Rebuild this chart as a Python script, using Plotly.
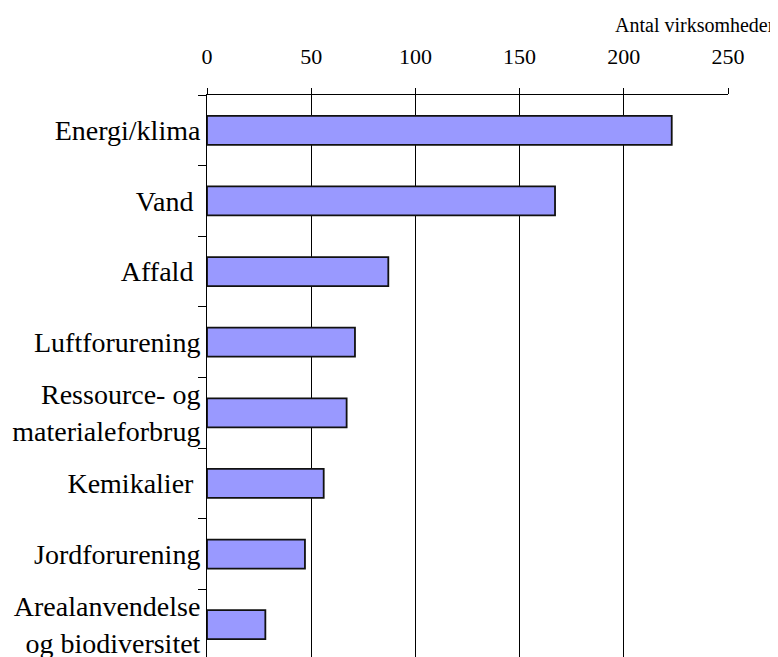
import plotly.graph_objects as go

# Data
categories = ['Energi/klima', 'Vand ', 'Affald ', 'Luftforurening',
              'Ressource- og<br>materialeforbrug', 'Kemikalier ',
              'Jordforurening', 'Arealanvendelse<br>og biodiversitet']
antal = [223, 167, 87, 71, 67, 56, 47, 28]
x_ticks = [0, 50, 100, 150, 200, 250]

serif = 'Liberation Serif'

trace = go.Bar(y=categories, x=antal, orientation='h', width=0.41,
               marker=dict(color='#9999FF', line=dict(color='#111111', width=1.8)),
               showlegend=False)

# the page body adds 8px, so margins are shifted by that
layout = dict(
    width=778, height=657,
    margin=dict(l=199, r=58, t=87, b=5),
    paper_bgcolor='white', plot_bgcolor='white',
    xaxis=dict(side='top', range=[0, 250], tickvals=x_ticks,
               showgrid=True, gridcolor='black', gridwidth=1,
               showline=True, linecolor='black', linewidth=1,
               ticks='outside', ticklen=6, tickcolor='black',
               ticklabelstandoff=15, zeroline=False,
               tickfont=dict(family=serif, size=22, color='black'),
               automargin=False),
    yaxis=dict(type='category', range=[7.5, -0.5],
               showgrid=False, showline=True, linecolor='black', linewidth=1,
               ticks='outside', ticklen=8, tickcolor='black', tickson='boundaries',
               tickfont=dict(family=serif, size=28, color='black'),
               automargin=False),
    annotations=[dict(text='Antal virksomheder', xref='paper', yref='paper',
                      x=1.094, y=1.1246, xanchor='right', yanchor='middle',
                      showarrow=False,
                      font=dict(family=serif, size=20, color='black'))],
)

fig = go.Figure(data=[trace], layout=layout)
fig.write_html('out.html')
